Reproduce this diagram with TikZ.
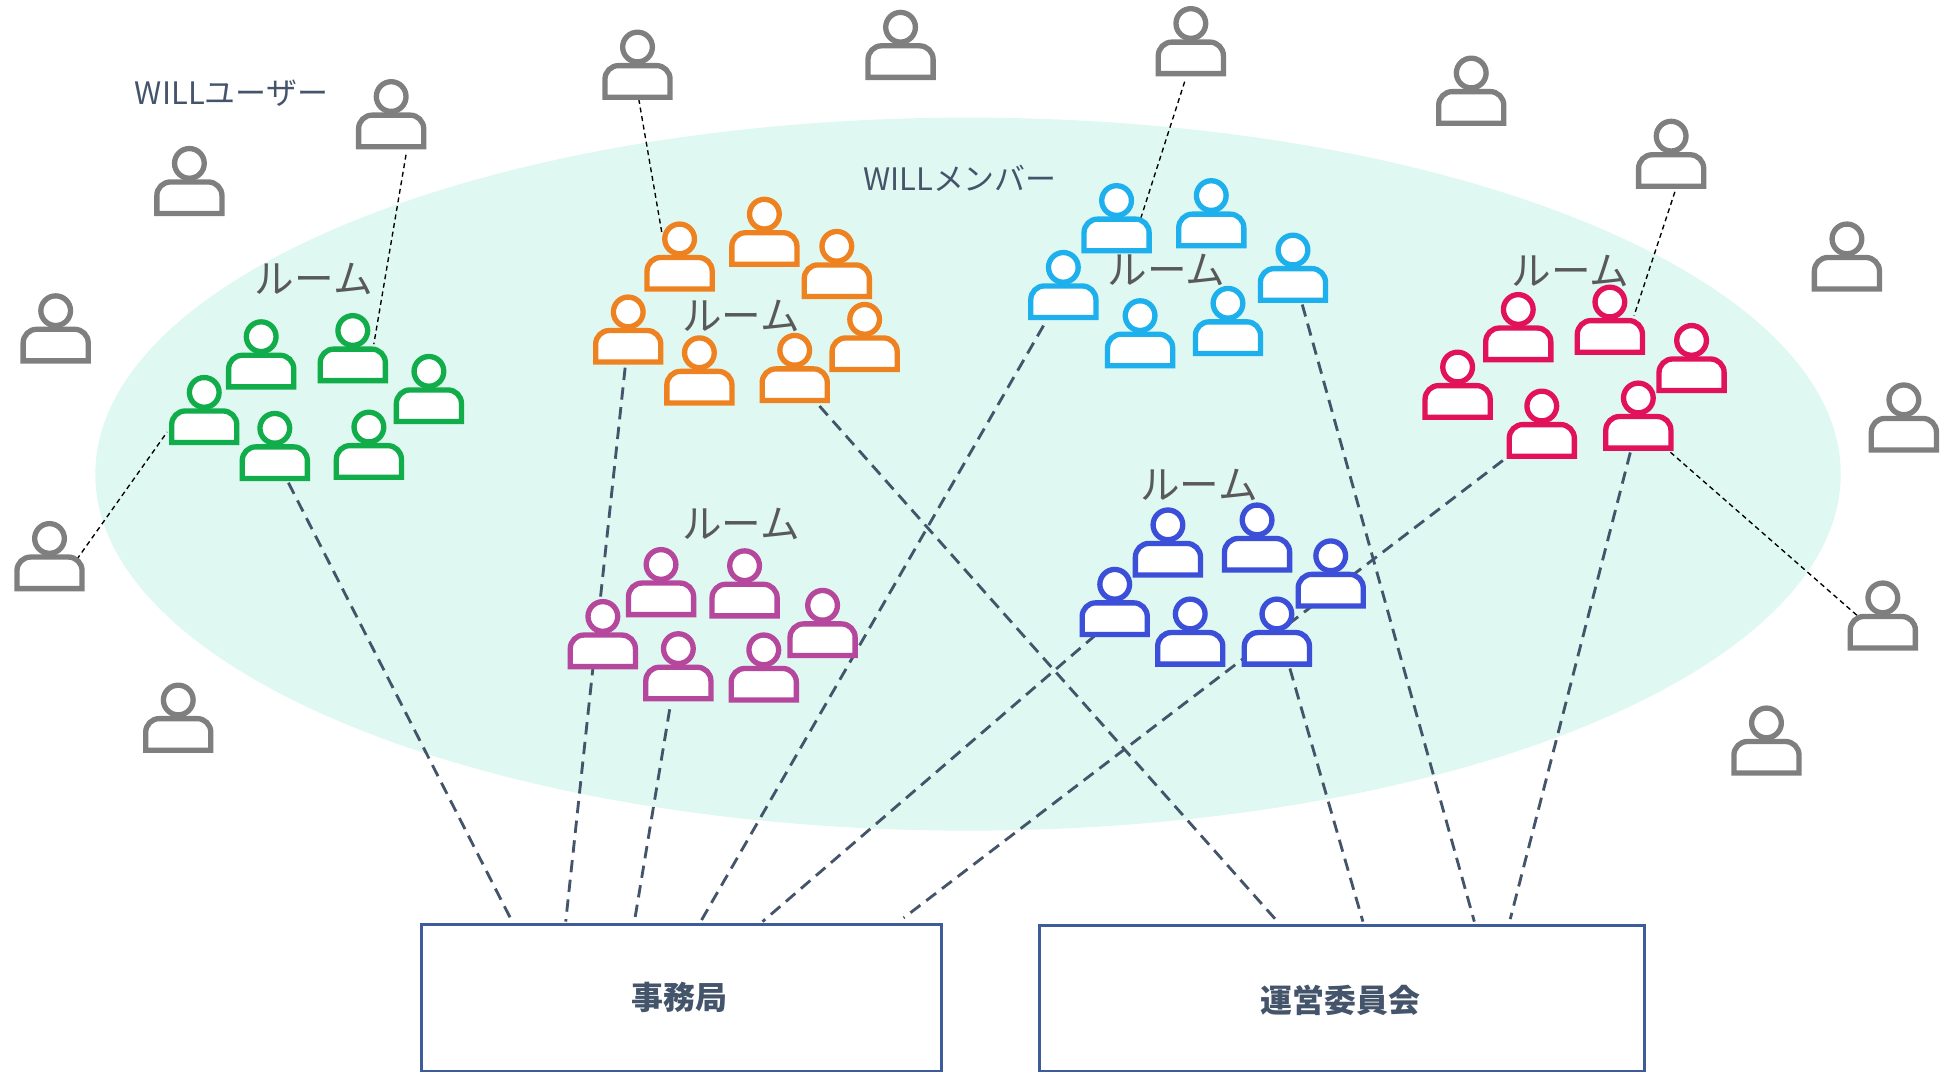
\documentclass[tikz,border=0pt]{standalone}
\usepackage{fontspec}
\setmainfont{Noto Sans CJK JP}
\usetikzlibrary{shapes.geometric}
\definecolor{mint}{HTML}{DFF8F1}
\definecolor{slate}{HTML}{44546A}
\definecolor{roomtxt}{HTML}{595959}
\definecolor{boxblue}{HTML}{3F5C9A}
\definecolor{pgray}{HTML}{7F7F7F}
\definecolor{pgreen}{HTML}{12AD4B}
\definecolor{porange}{HTML}{EE8220}
\definecolor{pcyan}{HTML}{1DB0EC}
\definecolor{pred}{HTML}{E2125A}
\definecolor{ppurple}{HTML}{B5479D}
\definecolor{pblue}{HTML}{3B4FD8}
\pgfdeclarelayer{bg}
\pgfdeclarelayer{links}
\pgfsetlayers{bg,links,main}
\tikzset{
  x=1pt,y=-1pt,
  anchorbox/.style={inner sep=0pt,minimum width=56pt,minimum height=56pt,draw=none},
  officebox/.style={draw=boxblue,line width=2.2pt,fill=white,inner sep=0pt},
  officetxt/.style={text=slate,font=\bfseries\fontsize{25.8}{30}\selectfont},
  roomlabel/.style={text=roomtxt,inner sep=0pt,font=\fontsize{32}{36}\selectfont},
  grouplabel/.style={text=slate,inner sep=0pt,font=\fontsize{25}{28}\selectfont},
  adminlink/.style={draw=slate,line width=2.3pt,dash pattern=on 10pt off 6pt},
  memberlink/.style={draw=black,line width=1.1pt,dash pattern=on 4pt off 3pt},
}
\newcommand{\person}[4]{%
  \begin{scope}[shift={(#2,#3)}]
    \node[anchorbox] (#1) at (0,14) {};
    \path[draw=#4,line width=4.3pt,fill=white,miter limit=4]
      (-26.3,40.5) -- (-26.3,26) arc[start angle=180,end angle=90,x radius=11pt,y radius=11pt]
      -- (15.3,15) arc[start angle=90,end angle=0,x radius=11pt,y radius=11pt] -- (26.3,40.5) -- cycle;
    \path[draw=#4,line width=4.3pt,fill=white] (0,0) circle[radius=12pt];
  \end{scope}%
}
\newcommand{\linkup}[5]{%
  \begin{pgfonlayer}{links}
    \draw[#1] ([shift={(#3)}]#2) -- ([shift={(#5)}]#4);
  \end{pgfonlayer}%
}
\begin{document}
\begin{tikzpicture}
\useasboundingbox (0,0) rectangle (1568,865.2);
\begin{pgfonlayer}{bg}
  \node[ellipse,fill=mint,inner sep=0pt,minimum width=1410pt,minimum height=576pt] (members) at (782,383) {};
\end{pgfonlayer}

% boxes
\node[officebox,minimum width=420pt,minimum height=119pt,anchor=north west] (office) at (339.5,745.5) {};
\node[officetxt] (officelabel) at (549,806) {事務局};
\node[officebox,minimum width=489pt,minimum height=118pt,anchor=north west] (committee) at (838.5,746.5) {};
\node[officetxt] (committeelabel) at (1083,808) {運営委員会};

% outside users
\person{u1}{316}{78}{pgray}
\person{u2}{153}{132}{pgray}
\person{u3}{45}{251}{pgray}
\person{u4}{40}{435}{pgray}
\person{u5}{144}{565.5}{pgray}
\person{u6}{515}{38}{pgray}
\person{u7}{727.5}{22}{pgray}
\person{u8}{962}{19}{pgray}
\person{u9}{1188.5}{59}{pgray}
\person{u10}{1350}{110}{pgray}
\person{u11}{1492}{193}{pgray}
\person{u12}{1538}{323}{pgray}
\person{u13}{1521}{483}{pgray}
\person{u14}{1427}{584}{pgray}

% green
\person{g1}{211}{272}{pgreen}
\person{g2}{285}{267}{pgreen}
\person{g3}{346.5}{300}{pgreen}
\person{g4}{165}{317}{pgreen}
\person{g5}{222}{346}{pgreen}
\person{g6}{298}{345}{pgreen}
% orange
\person{o1}{549}{193}{porange}
\person{o2}{617.5}{173}{porange}
\person{o3}{676}{199}{porange}
\person{o4}{507.5}{252}{porange}
\person{o5}{565}{285}{porange}
\person{o6}{642}{283}{porange}
\person{o7}{698.5}{258}{porange}
% cyan
\person{c1}{902}{162}{pcyan}
\person{c2}{978.5}{158}{pcyan}
\person{c3}{1044.5}{202}{pcyan}
\person{c4}{859}{216}{pcyan}
\person{c5}{921}{255}{pcyan}
\person{c6}{992}{245}{pcyan}
% red
\person{r1}{1226.5}{250}{pred}
\person{r2}{1300.5}{244}{pred}
\person{r3}{1366.5}{275}{pred}
\person{r4}{1177.5}{296.5}{pred}
\person{r5}{1245.5}{328}{pred}
\person{r6}{1323.5}{321.5}{pred}
% purple
\person{m1}{534}{456}{ppurple}
\person{m2}{601.5}{457}{ppurple}
\person{m3}{664.5}{489}{ppurple}
\person{m4}{487}{498}{ppurple}
\person{m5}{548}{524}{ppurple}
\person{m6}{617}{525}{ppurple}
% blue
\person{b1}{943.5}{424}{pblue}
\person{b2}{1015.5}{420}{pblue}
\person{b3}{1075}{449}{pblue}
\person{b4}{900.5}{472}{pblue}
\person{b5}{961.5}{496}{pblue}
\person{b6}{1031.5}{496}{pblue}

% labels
\node[grouplabel] (userlabel) at (187,75) {WILLユーザー};
\node[grouplabel] (memberlabel) at (775.5,144) {WILLメンバー};
\node[roomlabel] (room1) at (253.5,225) {ルーム};
\node[roomlabel] (room2) at (598.5,255) {ルーム};
\node[roomlabel] (room3) at (942.5,218.5) {ルーム};
\node[roomlabel] (room4) at (1268.5,219) {ルーム};
\node[roomlabel] (room5) at (598.5,423) {ルーム};
\node[roomlabel] (room6) at (968.5,392) {ルーム};

% admin links
\linkup{adminlink}{g5.center}{11,30}{office.north west}{73.5,-2.5}
\linkup{adminlink}{o4.center}{-2.5,31}{office.north west}{117.5,-1}
\linkup{adminlink}{m5.center}{-7,35}{office.north west}{173.5,-4}
\linkup{adminlink}{c4.center}{-16,33}{office.north west}{226.5,-1}
\linkup{adminlink}{b4.center}{-15.5,27}{office.north west}{276.5,-1}
\linkup{adminlink}{r5.center}{-31.5,30}{office.north west}{390.5,-4}
\linkup{adminlink}{o6.center}{20,31}{committee.north west}{193.5,-2}
\linkup{adminlink}{c3.center}{7.5,30}{committee.north west}{352.5,-2}
\linkup{adminlink}{b6.center}{10.5,30}{committee.north west}{262.5,-2}
\linkup{adminlink}{r6.center}{-6.5,30}{committee.north west}{381.5,-4}

% member links
\linkup{memberlink}{u1.center}{12,33}{g2.center}{17,-3}
\linkup{memberlink}{u4.center}{22,3}{g4.center}{-30,18}
\linkup{memberlink}{u6.center}{1,28}{o1.center}{-14,-17}
\linkup{memberlink}{u8.center}{-5,33}{c1.center}{19,2}
\linkup{memberlink}{u10.center}{3,31}{r2.center}{19.5,-3}
\linkup{memberlink}{u13.center}{-21,0}{r6.center}{25.5,29.5}
\end{tikzpicture}
\end{document}
